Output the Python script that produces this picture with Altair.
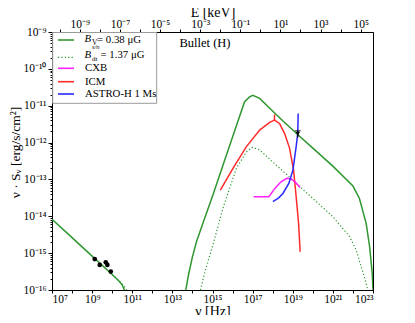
import math
import altair as alt
import pandas as pd

# ---------------- data: log10(nu / Hz), log10(nu*S_nu / erg s^-1 cm^-2) ----------------
bv_radio_nu = [7.0, 8.0, 9.0, 10.0, 10.35, 10.5, 10.62]
bv_radio_s = [-14.08, -14.58, -15.08, -15.58, -15.76, -15.86, -16.02]
bv_hump_nu = [13.67, 13.8, 14.0, 14.2, 14.61, 15.02, 15.45, 15.86, 16.25, 16.6, 16.85, 17.01,
              17.35, 17.85, 18.5, 19.34, 20.0, 21.0, 22.0, 22.32, 22.66, 22.83, 22.96, 23.0]
bv_hump_s = [-16.0, -15.6, -15.1, -14.69, -14.05, -13.42, -12.73, -12.07, -11.45, -10.89, -10.76, -10.72,
             -10.80, -11.07, -11.41, -11.83, -12.15, -12.64, -13.18, -13.51, -14.19, -14.82, -15.54, -16.0]

bdt_radio_nu = [10.0, 10.4, 10.6, 10.75]
bdt_radio_s = [-15.58, -15.79, -15.9, -16.02]
bdt_hump_nu = [14.40, 14.6, 15.02, 15.52, 16.19, 16.69, 16.98, 17.35, 17.85, 18.84, 19.42,
               21.0, 21.83, 22.16, 22.41, 22.57, 22.74]
bdt_hump_s = [-16.0, -15.55, -14.78, -13.78, -12.70, -12.25, -12.13, -12.20, -12.45, -12.94, -13.23,
              -14.01, -14.55, -14.91, -15.37, -15.64, -16.0]

icm_nu = [15.39, 16.02, 16.69, 17.35, 17.85, 18.09, 18.34, 18.59, 18.84, 19.04, 19.17, 19.29, 19.37]
icm_s = [-13.29, -12.70, -12.11, -11.66, -11.45, -11.39, -11.48, -11.75, -12.15, -12.74, -13.47, -14.19, -14.96]
icm_spike_nu = [18.09, 18.09]
icm_spike_s = [-11.39, -11.24]

cxb_nu = [17.05, 17.5, 17.81, 18.1, 18.4, 18.7, 18.9, 19.1, 19.37]
cxb_s = [-13.47, -13.47, -13.47, -13.25, -13.07, -12.97, -12.98, -13.06, -13.22]

astro_nu = [18.01, 18.3, 18.51, 18.81, 19.01, 19.17, 19.25, 19.27]
astro_s = [-13.60, -13.50, -13.38, -13.10, -12.74, -12.11, -11.75, -11.21]

radio_obs_nu = [9.13, 9.38, 9.68, 9.76, 9.93]
radio_obs_s = [-15.16, -15.32, -15.25, -15.32, -15.50]

hxr_nu = [19.25]
hxr_s = [-11.76]
hxr_lo = [-11.86]
hxr_hi = [-11.68]

x_ticks = list(range(7, 24))
y_ticks = list(range(-16, -8))
e_ticks = list(range(-10, 6))
keV_in_Hz = 2.418e17

legend_labels = ["CXB", "ICM", "ASTRO-H 1 Ms"]

# ---------------- styling ----------------
GREEN = "#2f972f"
RED = "#ff2a2a"
MAG = "#ff22ff"
BLUE = "#2a2aff"
FONT = "Liberation Serif"
W, H = 321, 258
XMIN, XMAX, YMIN, YMAX = 7, 23, -16, -9

D = "['\u2070','\u00b9','\u00b2','\u00b3','\u2074','\u2075','\u2076','\u2077','\u2078','\u2079']"
SUP = ("'10' + (datum.value < 0 ? '\u207b' : '') + (abs(datum.value) >= 10 ? " + D +
       "[floor(abs(datum.value)/10)] : '') + " + D + "[abs(datum.value) % 10]")

y_minor = []
for d in range(-16, -9):
    for k in range(2, 10):
        y_minor.append(round(d + math.log10(k), 6))

xscale = alt.Scale(domain=[XMIN, XMAX], nice=False, zero=False)
yscale = alt.Scale(domain=[YMIN, YMAX], nice=False, zero=False)

x_axis = alt.Axis(values=x_ticks, labelExpr="datum.value % 2 != 0 ? " + SUP + " : ''",
                  title="\u03bd [Hz]", grid=False, tickSize=3, labelFontSize=11.5,
                  titleFontSize=14, titleY=21, titleBaseline="middle",
                  labelPadding=0, orient="bottom")
y_axis = alt.Axis(values=y_ticks + y_minor,
                  labelExpr="datum.value == round(datum.value) ? " + SUP + " : ''",
                  tickSize={"condition": {"test": "datum.value != round(datum.value)", "value": 2}, "value": 4},
                  title="\u03bd \u00b7 S\u1d65  [erg/s/cm\u00b2]", grid=False, labelFontSize=11.5,
                  titleFontSize=13.5, titleX=-37, titleY=120, titleAngle=270,
                  titleBaseline="middle", titleAlign="center",
                  labelPadding=2, orient="left")

X = alt.X("x:Q", scale=xscale, axis=x_axis)
Y = alt.Y("y:Q", scale=yscale, axis=y_axis)


def seg_df(parts):
    rows = []
    for si, (xs, ys) in enumerate(parts):
        for i, (a, b) in enumerate(zip(xs, ys)):
            rows.append({"x": a, "y": b, "seg": si, "i": i})
    return pd.DataFrame(rows)


def line(parts, color, dash=None, width=1.5):
    kw = dict(color=color, strokeWidth=width, clip=True)
    if dash is not None:
        kw["strokeDash"] = dash
    return alt.Chart(seg_df(parts)).mark_line(**kw).encode(
        x=X, y=Y, detail="seg:N", order="i:Q")


bv = line([(bv_radio_nu, bv_radio_s), (bv_hump_nu, bv_hump_s)], GREEN)
bdt = line([(bdt_radio_nu, bdt_radio_s), (bdt_hump_nu, bdt_hump_s)], GREEN, dash=[1.2, 2.2], width=1.2)
icm = line([(icm_nu, icm_s), (icm_spike_nu, icm_spike_s)], RED)
cxb = line([(cxb_nu, cxb_s)], MAG)
astro = line([(astro_nu, astro_s)], BLUE)

radio_pts = alt.Chart(pd.DataFrame({"x": radio_obs_nu, "y": radio_obs_s})).mark_circle(
    color="black", size=22, opacity=1).encode(x=X, y=Y)

hxr_df = pd.DataFrame({"x": hxr_nu, "y": hxr_lo, "hi": hxr_hi})
hxr_bar = alt.Chart(hxr_df).mark_rule(color="black", strokeWidth=1.2).encode(
    x=X, y=Y, y2="hi:Q")
hxr_cap = alt.Chart(pd.DataFrame({"x": hxr_nu, "y": hxr_hi})).mark_tick(
    color="black", thickness=1.2, size=6, orient="horizontal").encode(x=X, y=Y)
hxr_pt = alt.Chart(pd.DataFrame({"x": hxr_nu, "y": hxr_s})).mark_point(
    shape="triangle-down", filled=True, color="black", size=20, opacity=1).encode(x=X, y=Y)

# ---------------- legend (drawn in pixel space) ----------------
one = pd.DataFrame({"a": [0]})
leg_box = alt.Chart(one).mark_rect(fill="white", stroke="#9a9a9a", strokeWidth=1).encode(
    x=alt.value(0.7), x2=alt.value(104.7), y=alt.value(0.5), y2=alt.value(71.3))

leg_ys = [8, 25.3, 36.3, 49.7, 62]
leg_cols = [GREEN, GREEN, MAG, RED, BLUE]
leg_lines = []
for i, (yy, cc) in enumerate(zip(leg_ys, leg_cols)):
    kw = dict(color=cc, strokeWidth=1.6)
    if i == 1:
        kw["strokeDash"] = [1.2, 2.2]
        kw["strokeWidth"] = 1.2
    leg_lines.append(alt.Chart(one).mark_rule(**kw).encode(
        x=alt.value(6), x2=alt.value(22), y=alt.value(yy)))


def txt(s, x, y, size=10.8, style="normal", align="left", baseline="middle"):
    return alt.Chart(one).mark_text(text=s, font=FONT, fontSize=size, fontStyle=style,
                                    align=align, baseline=baseline, color="black").encode(
        x=alt.value(x), y=alt.value(y))


leg_texts = [
    txt("B", 32.5, 7, style="italic"),
    txt("V", 40, 10.5, size=7.5),
    txt("= 0.38 \u03bcG", 45, 7.5),
    txt("B", 32.5, 22.5, style="italic"),
    txt("s/n", 40, 15, size=6.5, style="italic"),
    txt("dt", 40, 26.5, size=7),
    txt("= 1.37 \u03bcG", 48.5, 23),
]
for lab, yy in zip(legend_labels, leg_ys[2:]):
    leg_texts.append(txt(lab, 33, yy))

title_txt = txt("Bullet (H)", 153, 10.5, size=12.5, align="center")

# top energy axis (independent x scale); invisible points only carry the axis
e_dom = [XMIN - math.log10(keV_in_Hz), XMAX - math.log10(keV_in_Hz)]
e_layer = alt.Chart(pd.DataFrame({"e": e_dom, "y": [-12, -12]})).mark_point(opacity=0).encode(
    x=alt.X("e:Q", scale=alt.Scale(domain=e_dom, nice=False, zero=False),
            axis=alt.Axis(orient="top", values=e_ticks,
                          labelExpr="datum.value % 2 != 0 ? " + SUP + " : ''",
                          title="E [keV]", grid=False, tickSize=3, labelFontSize=11.5,
                          titleFontSize=14, titleY=-20, titleBaseline="middle",
                          labelPadding=0)),
    y=Y)

main = alt.layer(
    bv, bdt, icm, cxb, astro, radio_pts, hxr_bar, hxr_cap, hxr_pt,
    leg_box, *leg_lines, *leg_texts, title_txt
)

chart = alt.layer(main, e_layer).resolve_scale(x="independent").properties(
    width=W, height=H,
    autosize=alt.AutoSizeParams(type="none"),
    padding={"left": 44, "top": 24, "right": 34, "bottom": 25},
).configure_view(stroke="black", strokeWidth=1).configure_axis(
    labelFont=FONT, titleFont=FONT, labelColor="black", titleColor="black",
    domainColor="black", tickColor="black", titleFontWeight="normal",
)

chart.save("out.html", embed_options={"renderer": "svg", "actions": False})
